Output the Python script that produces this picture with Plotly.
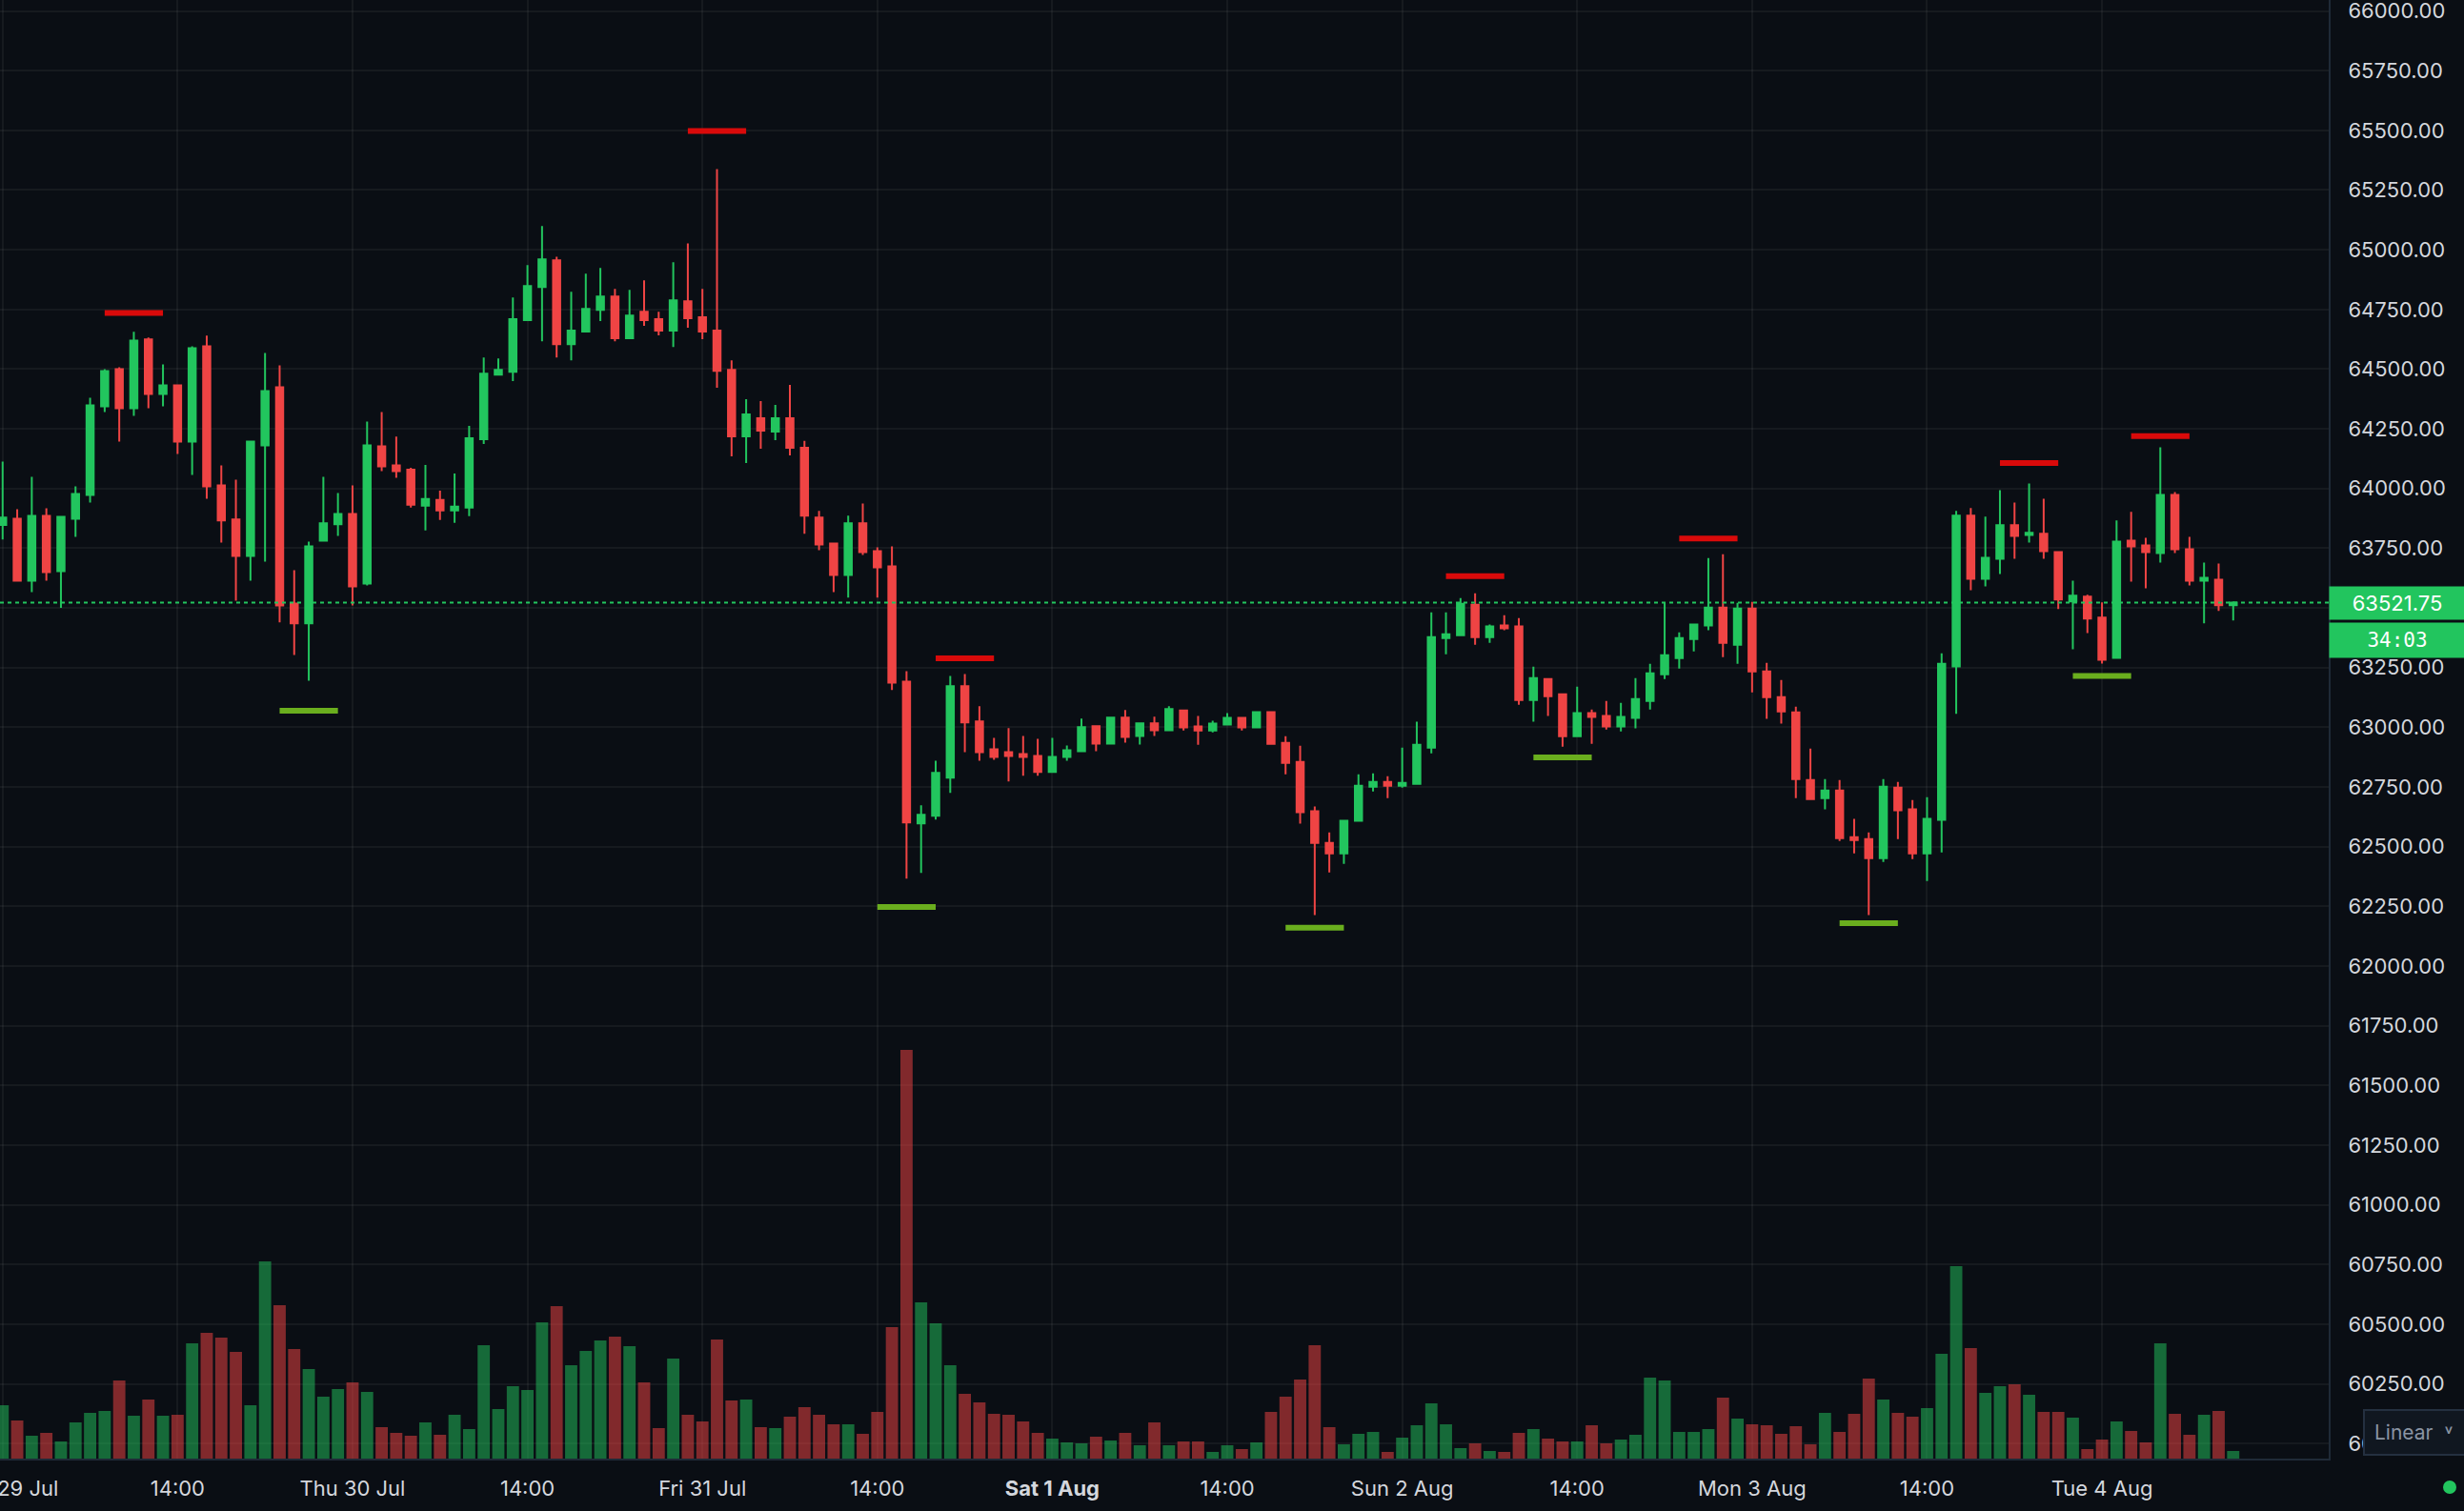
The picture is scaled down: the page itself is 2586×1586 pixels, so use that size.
import plotly.graph_objects as go

# hourly candles, Wed 29 Jul -> Tue 4 Aug
opens = [63847, 63873, 63614, 63885, 63654, 63873, 63973, 64344, 64500, 64336,
         64624, 64396, 64432, 64197, 64596, 64013, 63870, 63718, 64181, 64424,
         63518, 63435, 63782, 63850, 63893, 63602, 64177, 64097, 64079, 63928,
         63952, 63908, 63920, 64207, 64477, 64489, 64705, 64844, 64956, 64605,
         64657, 64748, 64804, 64629, 64740, 64709, 64661, 64784, 64717, 64661,
         64497, 64218, 64294, 64238, 64294, 64171, 63878, 63770, 63638, 63854,
         63738, 63674, 63191, 62597, 62629, 62789, 63172, 63024, 62908, 62896,
         62888, 62880, 62813, 62876, 62900, 63004, 62932, 63040, 62964, 63016,
         62988, 63070, 63003, 62987, 63011, 63039, 62999, 63063, 62935, 62855,
         62648, 62516, 62472, 62608, 62751, 62771, 62755, 62763, 62915, 63374,
         63386, 63513, 63378, 63426, 63422, 63114, 63202, 63138, 62963, 63059,
         63047, 63003, 63039, 63110, 63222, 63290, 63370, 63426, 63501, 63346,
         63497, 63234, 63126, 63062, 62779, 62703, 62735, 62540, 62532, 62452,
         62747, 62656, 62472, 62612, 63255, 63886, 63622, 63706, 63846, 63806,
         63810, 63734, 63527, 63547, 63459, 63291, 63782, 63762, 63730, 63973,
         63746, 63614, 63618, 63511]
highs = [64113, 63913, 64049, 63917, 63885, 64009, 64380, 64500, 64508, 64656,
         64632, 64520, 64436, 64596, 64640, 64097, 64037, 64197, 64568, 64516,
         63658, 63778, 64049, 63981, 64013, 64280, 64320, 64217, 64087, 64099,
         63991, 64063, 64262, 64549, 64545, 64800, 64936, 65099, 64971, 64824,
         64900, 64924, 64836, 64832, 64872, 64740, 64948, 65027, 64836, 65338,
         64537, 64374, 64366, 64350, 64434, 64200, 63906, 63774, 63886, 63937,
         63754, 63758, 63235, 62673, 62860, 63215, 63223, 63088, 62956, 62996,
         62964, 62952, 62956, 62924, 63036, 63004, 63040, 63072, 63016, 63044,
         63088, 63074, 63047, 63027, 63059, 63039, 63067, 63063, 62963, 62923,
         62668, 62560, 62612, 62803, 62807, 62795, 62915, 63023, 63481, 63481,
         63541, 63561, 63430, 63469, 63457, 63254, 63202, 63140, 63170, 63074,
         63110, 63102, 63206, 63266, 63521, 63398, 63430, 63709, 63725, 63521,
         63525, 63270, 63198, 63086, 62911, 62783, 62779, 62616, 62560, 62783,
         62771, 62695, 62707, 63310, 63906, 63918, 63882, 63993, 63941, 64021,
         63957, 63734, 63614, 63555, 63523, 63866, 63902, 63794, 64173, 63985,
         63798, 63690, 63686, 63527]
lows = [63787, 63610, 63566, 63614, 63500, 63798, 63941, 64320, 64197, 64304,
        64336, 64344, 64145, 64057, 63957, 63774, 63530, 63614, 63694, 63439,
        63303, 63195, 63782, 63802, 63510, 63594, 64073, 64045, 63920, 63824,
        63868, 63856, 63884, 64187, 64473, 64450, 64705, 64617, 64549, 64537,
        64653, 64701, 64617, 64629, 64681, 64641, 64593, 64673, 64625, 64422,
        64135, 64107, 64167, 64203, 64139, 63810, 63742, 63566, 63543, 63722,
        63543, 63156, 62366, 62390, 62613, 62725, 62896, 62860, 62864, 62773,
        62797, 62797, 62813, 62860, 62900, 62900, 62928, 62936, 62928, 62964,
        62988, 62987, 62927, 62979, 63011, 62987, 62999, 62931, 62803, 62596,
        62213, 62392, 62428, 62604, 62731, 62703, 62747, 62763, 62891, 63306,
        63386, 63346, 63354, 63406, 63094, 63023, 63047, 62919, 62963, 62931,
        62991, 62983, 62995, 63074, 63202, 63246, 63318, 63406, 63294, 63266,
        63146, 63035, 63015, 62703, 62695, 62656, 62524, 62472, 62213, 62436,
        62532, 62448, 62356, 62476, 63056, 63574, 63590, 63642, 63706, 63774,
        63706, 63495, 63327, 63395, 63267, 63291, 63610, 63582, 63690, 63730,
        63594, 63435, 63487, 63447]
closes = [63878, 63614, 63885, 63650, 63881, 63977, 64348, 64492, 64336, 64620,
          64396, 64432, 64197, 64588, 64009, 63866, 63718, 64197, 64408, 63510,
          63435, 63758, 63854, 63893, 63590, 64181, 64093, 64073, 63932, 63956,
          63908, 63924, 64211, 64481, 64497, 64709, 64848, 64960, 64605, 64661,
          64752, 64804, 64629, 64724, 64705, 64661, 64788, 64713, 64657, 64493,
          64218, 64310, 64242, 64294, 64171, 63886, 63766, 63638, 63854, 63734,
          63670, 63187, 62601, 62633, 62809, 63172, 63020, 62896, 62876, 62880,
          62876, 62813, 62876, 62904, 63000, 62932, 63040, 62960, 63016, 62988,
          63076, 62999, 62987, 63015, 63039, 62999, 63063, 62931, 62851, 62644,
          62516, 62472, 62608, 62755, 62771, 62755, 62767, 62927, 63378, 63390,
          63517, 63378, 63422, 63414, 63114, 63206, 63130, 62963, 63059, 63043,
          63003, 63043, 63118, 63226, 63302, 63374, 63430, 63501, 63354, 63497,
          63234, 63126, 63066, 62783, 62699, 62735, 62536, 62528, 62452, 62751,
          62652, 62472, 62616, 63266, 63886, 63622, 63710, 63846, 63802, 63814,
          63738, 63535, 63551, 63455, 63283, 63778, 63758, 63734, 63973, 63746,
          63614, 63626, 63511, 63521.75]
volumes = [168, 120, 72, 81, 54, 114, 144, 150, 246, 135,
           186, 135, 138, 363, 396, 381, 336, 168, 621, 483,
           345, 282, 195, 219, 240, 210, 99, 81, 72, 114,
           75, 138, 93, 357, 156, 228, 216, 429, 480, 294,
           339, 372, 384, 354, 240, 96, 315, 138, 117, 375,
           183, 186, 99, 96, 132, 162, 138, 108, 108, 78,
           147, 414, 1287, 492, 426, 294, 204, 177, 141, 138,
           117, 81, 63, 51, 48, 69, 57, 81, 42, 114,
           42, 54, 54, 21, 42, 30, 51, 147, 195, 249,
           357, 99, 45, 78, 84, 21, 66, 105, 174, 108,
           33, 48, 24, 21, 81, 93, 63, 54, 54, 105,
           48, 60, 75, 255, 246, 84, 84, 93, 192, 126,
           108, 105, 78, 102, 45, 144, 84, 141, 252, 186,
           144, 132, 159, 330, 606, 348, 207, 228, 234, 201,
           147, 147, 129, 30, 60, 117, 87, 51, 363, 141,
           75, 138, 150, 24]

tick_labels = ["Wed 29 Jul", "14:00", "Thu 30 Jul", "14:00", "Fri 31 Jul", "14:00",
               "<b>Sat 1 Aug</b>", "14:00", "Sun 2 Aug", "14:00", "Mon 3 Aug", "14:00",
               "Tue 4 Aug"]
bars_per_tick = 12

# swing markers (bar index, level)
swing_high_idx = [9, 49, 66, 101, 117, 139, 148]
swing_high_lvl = [64735, 65497, 63289, 63633, 63791, 64107, 64219]
swing_low_idx = [21, 62, 90, 107, 128, 144]
swing_low_lvl = [63069, 62247, 62161, 62874, 62179, 63215]

countdown = "34:03"

BG = "#0a0e14"
GRID = "rgba(255,255,255,0.05)"
AXIS = "#1f2a37"
UP = "#22c55e"
DOWN = "#ef4444"
TEXT = "#d4d7dd"

x = list(range(len(closes)))
last_price = closes[-1]


def segments(idx, lvl, half=2):
    xs, ys = [], []
    for i, p in zip(idx, lvl):
        xs += [i - half, i + half, None]
        ys += [p, p, None]
    return xs, ys


fig = go.Figure()

# candles
fig.add_trace(go.Candlestick(
    x=x, open=opens, high=highs, low=lows, close=closes,
    increasing=dict(line=dict(color=UP, width=2), fillcolor=UP),
    decreasing=dict(line=dict(color=DOWN, width=2), fillcolor=DOWN),
    whiskerwidth=0,
))

# swing highs / lows
hx, hy = segments(swing_high_idx, swing_high_lvl)
lx, ly = segments(swing_low_idx, swing_low_lvl)
fig.add_trace(go.Scatter(x=hx, y=hy, mode="lines", line=dict(color="#d90a0a", width=6)))
fig.add_trace(go.Scatter(x=lx, y=ly, mode="lines", line=dict(color="#6aae1e", width=6)))

# volume on a hidden overlay axis
vol_colors = ["rgba(34,197,94,0.5)" if c >= o else "rgba(239,68,68,0.52)"
              for o, c in zip(opens, closes)]
fig.add_trace(go.Bar(x=x, y=volumes, marker=dict(color=vol_colors, line=dict(width=0)),
                     width=0.84, yaxis="y2"))

# last price line + labels
fig.add_shape(type="line", xref="paper", x0=0, x1=1, yref="y", y0=last_price, y1=last_price,
              line=dict(color=UP, width=2, dash="4px,4px"), layer="above")
fig.add_annotation(xref="paper", x=1, xanchor="left", yref="y", y=last_price, yanchor="middle",
                   text=f"{last_price:.2f}", showarrow=False, bgcolor=UP, width=136, height=28,
                   borderpad=3, font=dict(family="Inter", size=22, color="#ffffff"))
fig.add_annotation(xref="paper", x=1, xanchor="left", yref="y", y=last_price, yanchor="middle",
                   yshift=-39, text=countdown, showarrow=False, bgcolor=UP, width=136, height=30,
                   borderpad=3, font=dict(family="DejaVu Sans Mono", size=21, color="#ffffff"))

# scale mode button + status dot
fig.add_annotation(xref="paper", x=2480 / 2444, xanchor="left", yref="paper", y=0.018,
                   yanchor="middle", text="Linear  \u02c5", showarrow=False, bgcolor="#101720",
                   bordercolor="#243040", borderwidth=2, borderpad=10, width=104, align="left",
                   font=dict(family="Inter", size=21, color="#8a94a3"))
fig.add_shape(type="circle", xref="paper", yref="paper", x0=2564 / 2444, x1=2578 / 2444,
              y0=-37 / 1531, y1=-23 / 1531, fillcolor=UP, line=dict(width=0))

fig.update_layout(
    width=2586, height=1586,
    margin=dict(l=0, r=142, t=0, b=55),
    paper_bgcolor=BG, plot_bgcolor=BG,
    showlegend=False, hovermode=False,
    font=dict(family="Inter", size=22, color=TEXT),
    xaxis=dict(range=[-0.18, 159.55], tickvals=[i * bars_per_tick for i in range(len(tick_labels))],
               ticktext=tick_labels, showgrid=True, gridcolor=GRID, gridwidth=1.5,
               zeroline=False, showline=True, linecolor=AXIS, linewidth=2, ticks="",
               ticklabelstandoff=11, ticklabeloverflow="allow", automargin=False,
               rangeslider=dict(visible=False), fixedrange=True),
    yaxis=dict(side="right", range=[59937, 66046], dtick=250, tick0=0, tickformat=".2f",
               showgrid=True, gridcolor=GRID, gridwidth=1.5, zeroline=False, showline=True,
               linecolor=AXIS, linewidth=2, ticks="", ticklabelstandoff=14, automargin=False,
               ticklabeloverflow="allow"),
    yaxis2=dict(overlaying="y", range=[0, 4593], visible=False),
)

fig.write_html("out.html", config={"displayModeBar": False},
               post_script="document.body.style.margin='0';document.body.style.overflow='hidden';")
